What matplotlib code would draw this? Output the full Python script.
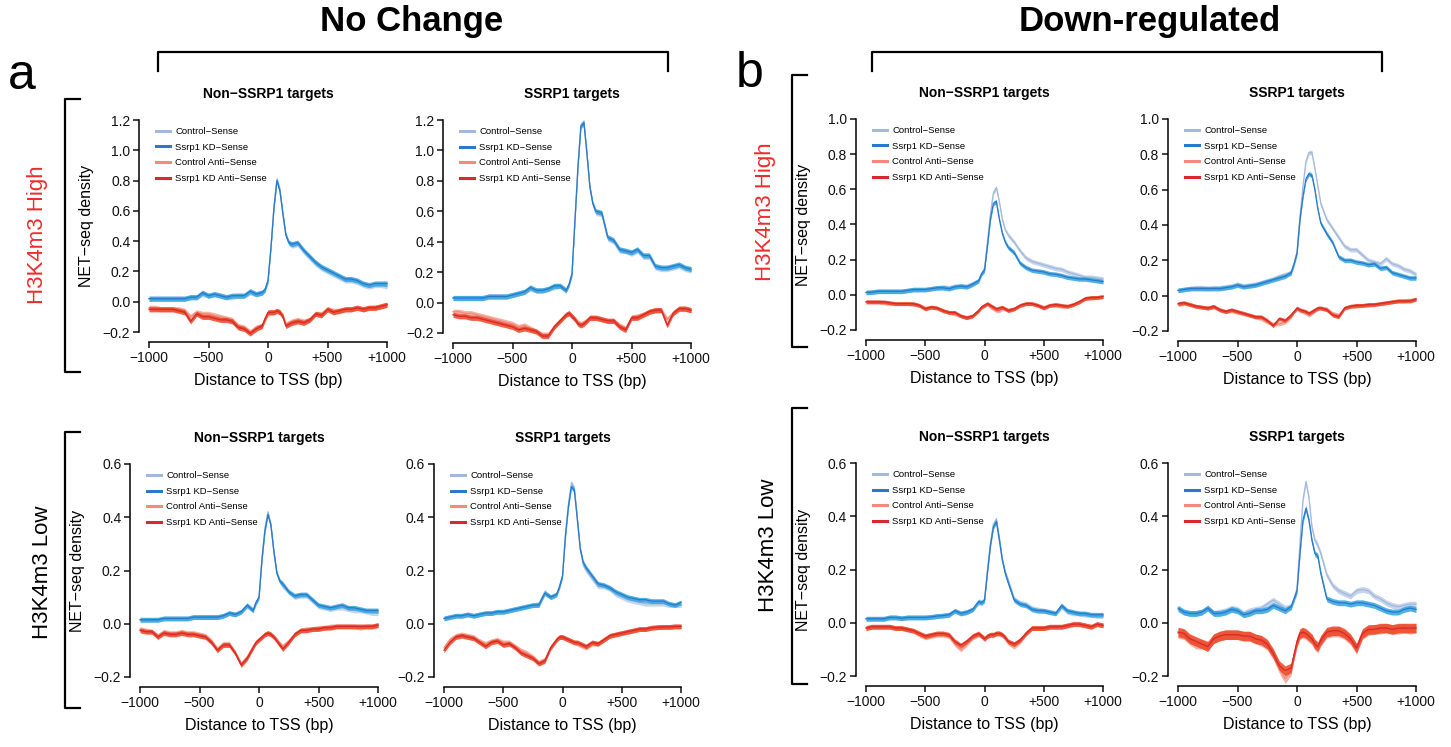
import matplotlib
matplotlib.use("Agg")
import matplotlib.pyplot as plt
from matplotlib.lines import Line2D
import numpy as np

plt.rcParams['font.family'] = ['Liberation Sans', 'DejaVu Sans']

W, H = 1451, 747

# distance to TSS (bp)
tss = [-1000, -950, -900, -850, -800, -750, -700, -650, -600, -550,
       -500, -450, -400, -350, -300, -250, -200, -150, -100, -50,
       -25, 0, 25, 50, 75, 100, 125, 150, 175, 200,
       250, 300, 350, 400, 450, 500, 550, 600, 650, 700,
       750, 800, 850, 900, 950, 1000]

xticks = [-1000, -500, 0, 500, 1000]
xtick_labels = ['\u22121000', '\u2212500', '0', '+500', '+1000']

series_names = ['Control\u2212Sense', 'Ssrp1 KD\u2212Sense',
                'Control Anti\u2212Sense', 'Ssrp1 KD Anti\u2212Sense']

# ---- a: No Change, H3K4m3 High, Non-SSRP1 targets
a_hi_non_ctrl_sense = [.02, .02, .02, .02, .02, .02, .02, .03, .03, .05,
                       .04, .05, .04, .03, .03, .04, .04, .06, .05, .06,
                       .08, .14, .36, .63, .81, .74, .58, .44, .39, .37,
                       .38, .33, .29, .25, .22, .20, .18, .16, .14, .14,
                       .13, .11, .10, .11, .11, .10]
a_hi_non_kd_sense = [.02, .02, .02, .02, .02, .02, .02, .03, .03, .06,
                     .04, .05, .04, .03, .04, .04, .04, .07, .05, .06,
                     .08, .14, .36, .62, .80, .73, .58, .44, .39, .38,
                     .39, .34, .30, .26, .23, .21, .19, .17, .15, .15,
                     .14, .12, .11, .12, .12, .12]
a_hi_non_ctrl_anti = [-.04, -.04, -.05, -.05, -.05, -.05, -.06, -.10, -.07, -.08,
                      -.08, -.09, -.10, -.11, -.12, -.16, -.17, -.20, -.17, -.16,
                      -.12, -.08, -.07, -.07, -.06, -.07, -.09, -.15, -.14, -.13,
                      -.12, -.13, -.12, -.08, -.08, -.05, -.06, -.06, -.05, -.05,
                      -.04, -.05, -.04, -.04, -.03, -.02]
a_hi_non_kd_anti = [-.05, -.05, -.05, -.05, -.05, -.06, -.07, -.13, -.08, -.10,
                    -.10, -.11, -.12, -.12, -.13, -.17, -.18, -.21, -.18, -.16,
                    -.11, -.07, -.07, -.07, -.06, -.07, -.10, -.16, -.15, -.14,
                    -.13, -.14, -.12, -.08, -.09, -.05, -.07, -.06, -.05, -.05,
                    -.04, -.05, -.04, -.04, -.03, -.02]

# ---- a: No Change, H3K4m3 High, SSRP1 targets
a_hi_tgt_ctrl_sense = [.03, .03, .03, .03, .03, .03, .04, .04, .04, .04,
                       .05, .06, .07, .09, .08, .08, .09, .10, .11, .08,
                       .12, .19, .55, .90, 1.17, 1.19, .99, .76, .65, .59,
                       .58, .42, .40, .34, .34, .32, .34, .30, .30, .23,
                       .22, .22, .23, .24, .22, .21]
a_hi_tgt_kd_sense = [.03, .03, .03, .03, .03, .03, .04, .04, .04, .04,
                     .05, .06, .07, .10, .08, .08, .09, .11, .11, .08,
                     .12, .19, .54, .89, 1.16, 1.18, .98, .76, .65, .60,
                     .59, .43, .41, .35, .34, .33, .35, .31, .31, .24,
                     .23, .23, .24, .25, .23, .22]
a_hi_tgt_ctrl_anti = [-.06, -.06, -.07, -.07, -.08, -.09, -.10, -.11, -.12, -.13,
                      -.14, -.16, -.15, -.17, -.19, -.21, -.21, -.16, -.12, -.08,
                      -.07, -.09, -.11, -.13, -.14, -.13, -.12, -.10, -.10, -.10,
                      -.11, -.12, -.12, -.15, -.17, -.10, -.09, -.08, -.06, -.05,
                      -.05, -.11, -.07, -.04, -.04, -.05]
a_hi_tgt_kd_anti = [-.08, -.09, -.09, -.10, -.10, -.11, -.12, -.13, -.14, -.15,
                    -.16, -.18, -.17, -.18, -.19, -.22, -.22, -.16, -.12, -.08,
                    -.07, -.09, -.11, -.14, -.15, -.14, -.12, -.10, -.10, -.10,
                    -.11, -.12, -.12, -.16, -.18, -.10, -.10, -.08, -.06, -.05,
                    -.05, -.15, -.07, -.04, -.04, -.05]

# ---- b: Down-regulated, H3K4m3 High, Non-SSRP1 targets
b_hi_non_ctrl_sense = [.015, .017, .02, .02, .02, .02, .02, .025, .03, .03,
                       .03, .035, .04, .045, .04, .05, .05, .05, .065, .08,
                       .12, .15, .30, .46, .58, .61, .53, .43, .37, .34,
                       .30, .25, .21, .19, .18, .17, .16, .15, .145, .13,
                       .12, .11, .10, .10, .095, .09]
b_hi_non_kd_sense = [.013, .015, .02, .02, .02, .02, .02, .025, .03, .03,
                     .03, .035, .04, .04, .035, .045, .05, .045, .06, .08,
                     .12, .14, .28, .43, .52, .53, .43, .35, .30, .27,
                     .24, .18, .155, .14, .135, .13, .12, .117, .11, .10,
                     .095, .09, .09, .085, .08, .075]
b_hi_non_ctrl_anti = [-.04, -.04, -.04, -.045, -.05, -.05, -.05, -.05, -.055, -.06,
                      -.075, -.07, -.075, -.09, -.10, -.11, -.12, -.13, -.12, -.09,
                      -.07, -.06, -.05, -.07, -.08, -.09, -.09, -.08, -.08, -.085,
                      -.08, -.06, -.05, -.05, -.06, -.07, -.06, -.06, -.065, -.065,
                      -.055, -.04, -.02, -.02, -.015, -.01]
b_hi_non_kd_anti = [-.04, -.04, -.04, -.04, -.045, -.05, -.05, -.05, -.05, -.06,
                    -.08, -.07, -.075, -.09, -.10, -.10, -.12, -.13, -.12, -.09,
                    -.07, -.06, -.05, -.06, -.07, -.08, -.075, -.07, -.08, -.09,
                    -.08, -.06, -.05, -.05, -.06, -.075, -.06, -.055, -.06, -.065,
                    -.055, -.04, -.02, -.015, -.015, -.01]

# ---- b: Down-regulated, H3K4m3 High, SSRP1 targets
b_hi_tgt_ctrl_sense = [.03, .035, .04, .045, .045, .04, .045, .045, .05, .055,
                       .065, .055, .06, .065, .075, .085, .095, .11, .12, .13,
                       .18, .25, .45, .62, .76, .81, .81, .72, .62, .52,
                       .43, .38, .33, .28, .26, .26, .23, .20, .19, .18,
                       .21, .18, .17, .15, .14, .12]
b_hi_tgt_kd_sense = [.03, .035, .04, .04, .04, .04, .04, .04, .045, .05,
                     .06, .05, .055, .06, .07, .08, .09, .10, .11, .13,
                     .18, .24, .43, .56, .66, .69, .68, .60, .49, .41,
                     .35, .30, .22, .20, .20, .19, .185, .175, .18, .155,
                     .16, .13, .12, .11, .10, .10]
b_hi_tgt_ctrl_anti = [-.05, -.045, -.05, -.06, -.065, -.07, -.065, -.08, -.09, -.085,
                      -.095, -.10, -.11, -.12, -.13, -.15, -.16, -.16, -.15, -.12,
                      -.09, -.075, -.085, -.09, -.10, -.11, -.10, -.085, -.075, -.07,
                      -.075, -.10, -.11, -.07, -.06, -.06, -.055, -.055, -.05, -.045,
                      -.04, -.035, -.03, -.03, -.025, -.02]
b_hi_tgt_kd_anti = [-.045, -.04, -.05, -.06, -.065, -.07, -.06, -.08, -.09, -.08,
                    -.09, -.10, -.11, -.12, -.12, -.14, -.17, -.13, -.14, -.11,
                    -.09, -.07, -.08, -.085, -.09, -.10, -.09, -.08, -.07, -.07,
                    -.08, -.11, -.12, -.07, -.06, -.055, -.055, -.05, -.05, -.045,
                    -.04, -.035, -.03, -.03, -.03, -.02]

# ---- a: No Change, H3K4m3 Low, Non-SSRP1 targets
a_lo_non_ctrl_sense = [.015, .015, .015, .015, .02, .02, .02, .02, .02, .025,
                       .025, .025, .025, .025, .03, .04, .035, .045, .065, .05,
                       .08, .10, .25, .36, .42, .37, .27, .19, .16, .14,
                       .12, .10, .105, .105, .085, .065, .06, .055, .06, .06,
                       .055, .05, .05, .045, .04, .04]
a_lo_non_kd_sense = [.015, .015, .015, .015, .02, .02, .02, .02, .02, .025,
                     .025, .025, .025, .025, .03, .04, .035, .045, .07, .05,
                     .08, .10, .24, .35, .41, .37, .27, .19, .16, .15,
                     .12, .105, .11, .11, .09, .07, .065, .06, .065, .07,
                     .06, .06, .055, .05, .05, .05]
a_lo_non_ctrl_anti = [-.02, -.025, -.03, -.045, -.03, -.035, -.035, -.03, -.035, -.035,
                      -.04, -.045, -.065, -.095, -.075, -.075, -.11, -.15, -.125, -.085,
                      -.07, -.06, -.05, -.04, -.035, -.04, -.05, -.06, -.075, -.085,
                      -.065, -.04, -.025, -.02, -.02, -.015, -.015, -.01, -.01, -.01,
                      -.01, -.01, -.015, -.01, -.01, -.005]
a_lo_non_kd_anti = [-.025, -.03, -.03, -.05, -.035, -.04, -.04, -.035, -.04, -.04,
                    -.045, -.05, -.07, -.10, -.08, -.08, -.11, -.155, -.13, -.09,
                    -.07, -.06, -.05, -.04, -.035, -.04, -.05, -.065, -.08, -.095,
                    -.07, -.04, -.025, -.025, -.02, -.02, -.015, -.015, -.01, -.01,
                    -.01, -.01, -.01, -.01, -.01, -.005]

# ---- a: No Change, H3K4m3 Low, SSRP1 targets
a_lo_tgt_ctrl_sense = [.02, .025, .03, .03, .035, .03, .035, .04, .04, .045,
                       .045, .05, .055, .06, .065, .07, .075, .12, .10, .11,
                       .14, .18, .34, .45, .53, .51, .40, .28, .22, .20,
                       .17, .14, .14, .13, .11, .10, .09, .085, .08, .075,
                       .075, .075, .075, .07, .07, .07]
a_lo_tgt_kd_sense = [.02, .025, .03, .03, .035, .03, .035, .04, .04, .045,
                     .045, .05, .055, .06, .065, .07, .07, .115, .10, .11,
                     .14, .18, .33, .44, .515, .50, .39, .28, .23, .21,
                     .18, .15, .145, .135, .12, .11, .10, .095, .09, .09,
                     .085, .085, .085, .075, .07, .08]
a_lo_tgt_ctrl_anti = [-.09, -.06, -.045, -.04, -.045, -.05, -.065, -.075, -.065, -.06,
                      -.07, -.07, -.085, -.10, -.11, -.125, -.145, -.135, -.09, -.06,
                      -.05, -.05, -.055, -.06, -.065, -.07, -.075, -.08, -.085, -.09,
                      -.075, -.075, -.06, -.045, -.04, -.035, -.03, -.025, -.02, -.02,
                      -.015, -.013, -.012, -.012, -.01, -.01]
a_lo_tgt_kd_anti = [-.10, -.07, -.05, -.045, -.05, -.055, -.07, -.085, -.07, -.065,
                    -.08, -.075, -.09, -.11, -.12, -.13, -.15, -.14, -.09, -.06,
                    -.05, -.05, -.055, -.06, -.065, -.07, -.07, -.075, -.08, -.085,
                    -.07, -.075, -.06, -.045, -.04, -.035, -.03, -.025, -.02, -.02,
                    -.015, -.013, -.012, -.012, -.01, -.01]

# ---- b: Down-regulated, H3K4m3 Low, Non-SSRP1 targets
b_lo_non_ctrl_sense = [.015, .015, .015, .015, .02, .02, .017, .02, .02, .02,
                       .02, .022, .025, .027, .03, .045, .035, .04, .05, .075,
                       .075, .085, .20, .30, .37, .39, .32, .24, .19, .16,
                       .09, .075, .07, .055, .05, .045, .04, .035, .06, .04,
                       .035, .035, .03, .03, .025, .025]
b_lo_non_kd_sense = [.015, .015, .015, .015, .02, .02, .017, .02, .02, .02,
                     .02, .022, .025, .027, .03, .045, .035, .04, .05, .08,
                     .075, .085, .19, .29, .36, .38, .31, .235, .185, .15,
                     .085, .07, .065, .05, .045, .045, .04, .035, .065, .045,
                     .04, .035, .035, .03, .03, .03]
b_lo_non_ctrl_anti = [-.02, -.015, -.015, -.015, -.015, -.02, -.02, -.025, -.03, -.045,
                      -.055, -.05, -.045, -.045, -.05, -.08, -.10, -.08, -.055, -.045,
                      -.05, -.06, -.05, -.045, -.045, -.04, -.04, -.045, -.06, -.075,
                      -.09, -.07, -.04, -.02, -.02, -.02, -.015, -.015, -.015, -.01,
                      -.005, -.005, -.01, -.015, -.005, -.01]
b_lo_non_kd_anti = [-.02, -.015, -.015, -.015, -.015, -.02, -.02, -.025, -.03, -.04,
                    -.05, -.045, -.04, -.04, -.045, -.07, -.085, -.07, -.05, -.04,
                    -.05, -.06, -.05, -.045, -.045, -.04, -.04, -.045, -.055, -.07,
                    -.08, -.065, -.04, -.02, -.02, -.02, -.015, -.015, -.015, -.01,
                    -.005, -.005, -.01, -.015, -.005, -.01]

# ---- b: Down-regulated, H3K4m3 Low, SSRP1 targets
b_lo_tgt_ctrl_sense = [.05, .04, .035, .035, .04, .055, .035, .04, .045, .055,
                       .05, .035, .045, .05, .055, .07, .085, .07, .055, .06,
                       .09, .13, .30, .46, .53, .47, .36, .31, .29, .26,
                       .18, .14, .12, .11, .10, .12, .125, .12, .10, .09,
                       .075, .065, .06, .065, .07, .07]
b_lo_tgt_kd_sense = [.055, .04, .035, .035, .04, .055, .035, .035, .04, .05,
                     .045, .03, .035, .045, .045, .05, .065, .055, .045, .06,
                     .09, .12, .26, .385, .43, .385, .31, .26, .25, .185,
                     .09, .08, .075, .075, .07, .075, .075, .07, .065, .055,
                     .045, .04, .04, .05, .055, .05]
b_lo_tgt_ctrl_anti = [-.04, -.045, -.065, -.08, -.08, -.085, -.06, -.05, -.045, -.045,
                      -.045, -.05, -.05, -.06, -.07, -.085, -.12, -.17, -.21, -.18,
                      -.12, -.075, -.045, -.04, -.045, -.055, -.065, -.085, -.095, -.07,
                      -.04, -.035, -.035, -.045, -.065, -.10, -.045, -.03, -.025, -.025,
                      -.02, -.025, -.025, -.02, -.025, -.02]
b_lo_tgt_kd_anti = [-.035, -.04, -.06, -.07, -.08, -.09, -.06, -.05, -.045, -.045,
                    -.045, -.05, -.05, -.06, -.065, -.08, -.115, -.16, -.18, -.17,
                    -.12, -.07, -.04, -.035, -.04, -.05, -.06, -.08, -.09, -.065,
                    -.035, -.03, -.03, -.04, -.06, -.095, -.04, -.025, -.025, -.02,
                    -.02, -.025, -.02, -.02, -.02, -.02]

# ribbon half-widths (sense, anti-sense) per panel
band_a_hi = (0.017, 0.017)
band_b_hi = (0.013, 0.011)
band_lo = (0.009, 0.009)
band_b_lo_tgt = (0.011, 0.018)

line_colors = ['#a3b8dc', '#2b78c9', '#f38a7c', '#d7282a']
fill_colors = ['#bccde9', '#2ea4e0', '#f5a292', '#ec4524']

# (title, show ylabel, series, yticks, px box [left, top, right, bottom], band)
panels = [
    ('Non\u2212SSRP1 targets', True,
     [a_hi_non_ctrl_sense, a_hi_non_kd_sense, a_hi_non_ctrl_anti, a_hi_non_kd_anti],
     [-0.2, 0.0, 0.2, 0.4, 0.6, 0.8, 1.0, 1.2], (149, 120, 387, 332), band_a_hi),
    ('SSRP1 targets', False,
     [a_hi_tgt_ctrl_sense, a_hi_tgt_kd_sense, a_hi_tgt_ctrl_anti, a_hi_tgt_kd_anti],
     [-0.2, 0.0, 0.2, 0.4, 0.6, 0.8, 1.0, 1.2], (453, 120, 691, 333), band_a_hi),
    ('Non\u2212SSRP1 targets', True,
     [b_hi_non_ctrl_sense, b_hi_non_kd_sense, b_hi_non_ctrl_anti, b_hi_non_kd_anti],
     [-0.2, 0.0, 0.2, 0.4, 0.6, 0.8, 1.0], (866, 119, 1103, 330), band_b_hi),
    ('SSRP1 targets', False,
     [b_hi_tgt_ctrl_sense, b_hi_tgt_kd_sense, b_hi_tgt_ctrl_anti, b_hi_tgt_kd_anti],
     [-0.2, 0.0, 0.2, 0.4, 0.6, 0.8, 1.0], (1178, 119, 1416, 331), band_b_hi),
    ('Non\u2212SSRP1 targets', True,
     [a_lo_non_ctrl_sense, a_lo_non_kd_sense, a_lo_non_ctrl_anti, a_lo_non_kd_anti],
     [-0.2, 0.0, 0.2, 0.4, 0.6], (140, 464, 378, 677), band_lo),
    ('SSRP1 targets', False,
     [a_lo_tgt_ctrl_sense, a_lo_tgt_kd_sense, a_lo_tgt_ctrl_anti, a_lo_tgt_kd_anti],
     [-0.2, 0.0, 0.2, 0.4, 0.6], (444, 464, 681, 677), band_lo),
    ('Non\u2212SSRP1 targets', True,
     [b_lo_non_ctrl_sense, b_lo_non_kd_sense, b_lo_non_ctrl_anti, b_lo_non_kd_anti],
     [-0.2, 0.0, 0.2, 0.4, 0.6], (866, 463, 1103, 676), band_lo),
    ('SSRP1 targets', False,
     [b_lo_tgt_ctrl_sense, b_lo_tgt_kd_sense, b_lo_tgt_ctrl_anti, b_lo_tgt_kd_anti],
     [-0.2, 0.0, 0.2, 0.4, 0.6], (1178, 463, 1416, 676), band_b_lo_tgt),
]

fig = plt.figure(figsize=(W / 100, H / 100), dpi=100)


def fx(px):
    return px / W


def fy(py):
    return 1 - py / H


x = np.array(tss)
for title, show_ylab, series, yticks, box, band in panels:
    l, t, r, b = box
    ax = fig.add_axes([fx(l), fy(b), fx(r) - fx(l), fy(t) - fy(b)])
    for i, (vals, name) in enumerate(zip(series, series_names)):
        y = np.array(vals)
        hw = band[0] if i < 2 else band[1]
        ax.fill_between(x, y - hw, y + hw, color=fill_colors[i], alpha=0.85,
                        lw=0, clip_on=False, zorder=2 + i)
        ax.plot(x, y, color=line_colors[i], lw=0.9, label=name,
                clip_on=False, zorder=2.5 + i)
    ax.set_xlim(-1000, 1000)
    ax.set_ylim(yticks[0], yticks[-1])
    ax.set_xticks(xticks)
    ax.set_xticklabels(xtick_labels)
    ax.set_yticks(yticks)
    ax.set_yticklabels(['\u22120.2' if v < 0 else f'{v:.1f}' for v in yticks])
    for side in ['top', 'right']:
        ax.spines[side].set_visible(False)
    ax.spines['left'].set_position(('outward', 7.5))
    ax.spines['bottom'].set_position(('outward', 7.5))
    ax.spines['left'].set_linewidth(1.1)
    ax.spines['bottom'].set_linewidth(1.1)
    ax.tick_params(labelsize=10, length=4, width=1.1, pad=2, colors='#111111')
    ax.patch.set_visible(False)
    ax.set_title(title, fontsize=10, fontweight='bold', pad=16)
    ax.set_xlabel('Distance to TSS (bp)', fontsize=11.5, labelpad=6)
    if show_ylab:
        ax.set_ylabel('NET\u2212seq density', fontsize=11.5, labelpad=6)
    leg = ax.legend(loc='upper left', bbox_to_anchor=(0.02, 0.975), frameon=False,
                    fontsize=6.8, handlelength=1.5, handletextpad=0.6,
                    labelspacing=0.7, borderaxespad=0, borderpad=0.2)
    for h in leg.get_lines():
        h.set_linewidth(2.2)

# figure-level labels and brackets
narrow = ['Liberation Sans Narrow', 'Liberation Sans', 'DejaVu Sans']
fig.text(fx(412), fy(22), 'No Change', ha='center', va='center',
         fontsize=25, fontweight='bold', family=narrow)
fig.text(fx(1150), fy(22), 'Down-regulated', ha='center', va='center',
         fontsize=25, fontweight='bold', family=narrow)
fig.text(fx(22), fy(76), 'a', ha='center', va='center', fontsize=36)
fig.text(fx(750), fy(74), 'b', ha='center', va='center', fontsize=36)

fig.text(fx(38), fy(235), 'H3K4m3 High', rotation=90, ha='center', va='center',
         fontsize=16, color='#ee2b2b')
fig.text(fx(42), fy(572), 'H3K4m3 Low', rotation=90, ha='center', va='center',
         fontsize=16, color='black')
fig.text(fx(765), fy(212), 'H3K4m3 High', rotation=90, ha='center', va='center',
         fontsize=16, color='#ee2b2b')
fig.text(fx(768), fy(545), 'H3K4m3 Low', rotation=90, ha='center', va='center',
         fontsize=16, color='black')


def side_bracket(xp, top, bottom, arm=15):
    fig.add_artist(Line2D([fx(xp + arm), fx(xp), fx(xp), fx(xp + arm)],
                          [fy(top), fy(top), fy(bottom), fy(bottom)],
                          color='black', lw=1.6, transform=fig.transFigure))


def top_bracket(left, right, yp, drop=19):
    fig.add_artist(Line2D([fx(left), fx(left), fx(right), fx(right)],
                          [fy(yp + drop), fy(yp), fy(yp), fy(yp + drop)],
                          color='black', lw=1.6, transform=fig.transFigure))


side_bracket(65, 99, 372)
side_bracket(65, 432, 708)
side_bracket(792, 75, 347)
side_bracket(792, 408, 684)
top_bracket(158, 668, 52)
top_bracket(872, 1382, 52)

fig.savefig('out.png', dpi=100)
